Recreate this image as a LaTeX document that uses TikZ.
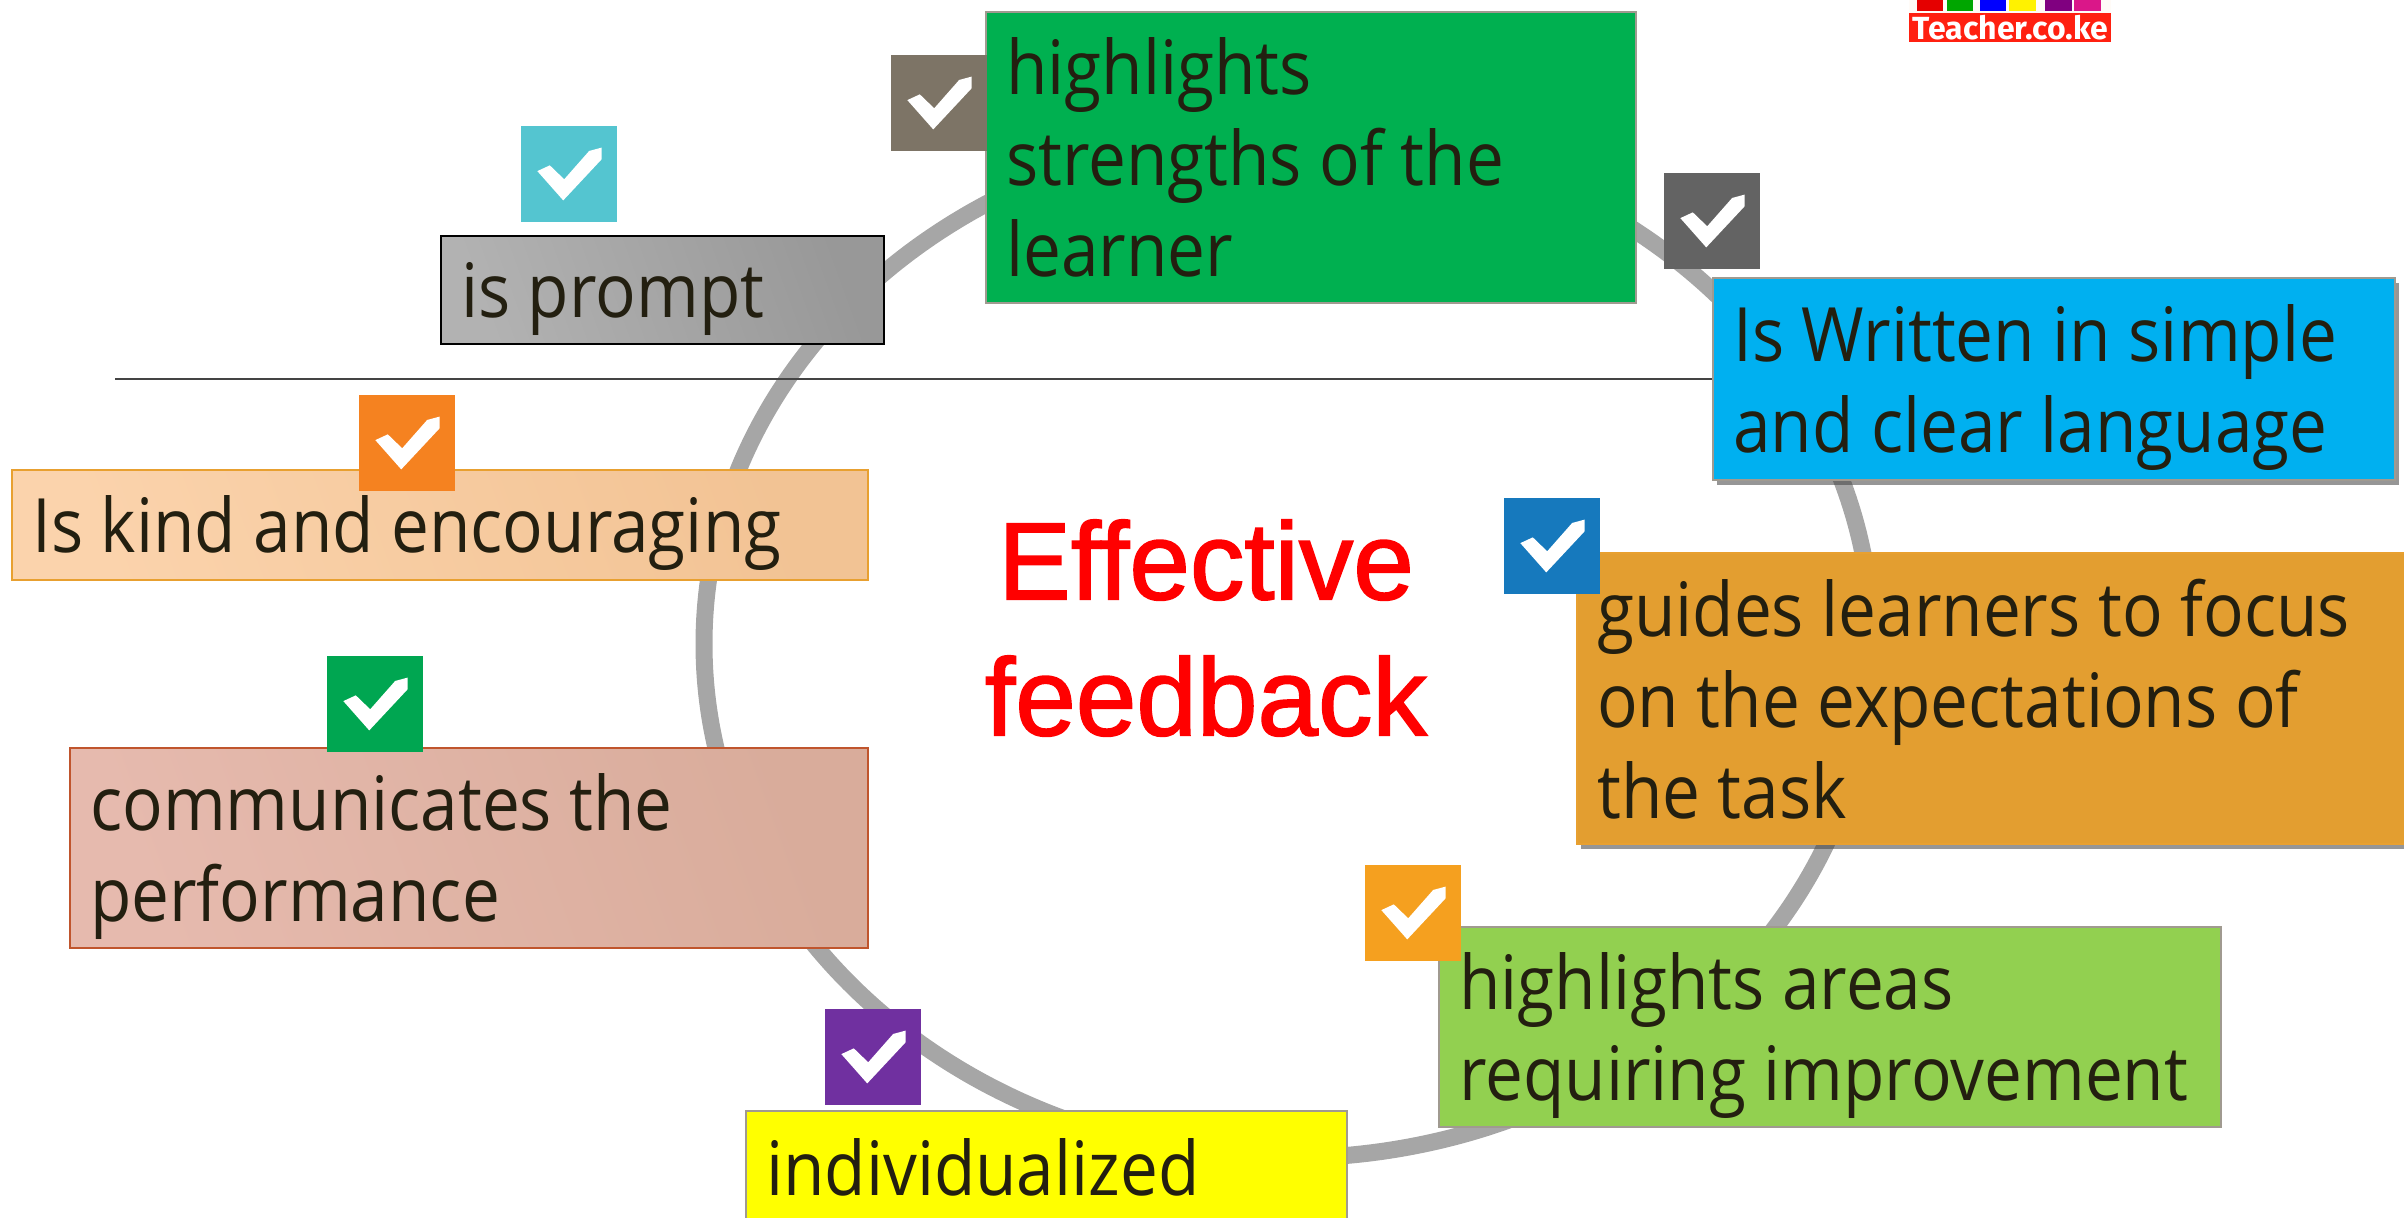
\documentclass[tikz,border=0pt]{standalone}
\usepackage{fontspec}
\setmainfont[FakeStretch=0.9]{Open Sans}
\newfontfamily\titlefont[FakeStretch=0.99,FakeBold=1.5]{Liberation Sans}
\newfontfamily\logofont{Fira Sans}
\usetikzlibrary{shadows}
\definecolor{ink}{HTML}{231F10}
\definecolor{ringgray}{HTML}{A6A6A6}
\definecolor{rulegray}{HTML}{444444}
\definecolor{cTeal}{HTML}{54C5D0}
\definecolor{cBrown}{HTML}{7D7466}
\definecolor{cGray}{HTML}{636363}
\definecolor{cOrange}{HTML}{F58220}
\definecolor{cBlue}{HTML}{1679BD}
\definecolor{cGreen}{HTML}{00A651}
\definecolor{cAmber}{HTML}{F5A01F}
\definecolor{cPurple}{HTML}{7030A0}
\definecolor{bGreen}{HTML}{00B050}
\definecolor{bSky}{HTML}{00B0F0}
\definecolor{bOrange}{HTML}{E39E30}
\definecolor{bLime}{HTML}{92D050}
\definecolor{bYellow}{RGB}{255,255,0}
\definecolor{bEdge}{HTML}{A09A90}
\definecolor{pL}{HTML}{FBD3AC}
\definecolor{pR}{HTML}{F2C394}
\definecolor{pE}{HTML}{E8A030}
\definecolor{sL}{HTML}{E6BAAE}
\definecolor{sR}{HTML}{D9AC9B}
\definecolor{sE}{HTML}{C0552D}
\definecolor{gL}{HTML}{B2B2B2}
\definecolor{gR}{HTML}{989898}
\definecolor{logoRed}{HTML}{FF2010}
\tikzset{
  x=0.5pt,y=-0.5pt,
  box/.style={draw=#1,line width=1.2pt,rectangle,inner sep=0pt,anchor=north west,text=ink,
    font=\fontsize{37.5}{45.5}\selectfont,align=flush left},
  shadowed/.style={general shadow={fill=black!75,opacity=.55,shadow xshift=2pt,shadow yshift=-2.5pt}},
  chk/.style={fill=#1,draw=none,rectangle,minimum width=48pt,minimum height=48pt,inner sep=0pt,anchor=north west},
  ring/.style={draw=ringgray,line width=8.5pt},
  rulel/.style={draw=rulegray,line width=1.2pt},
  title/.style={text=red,font=\titlefont\fontsize{55}{68}\selectfont,align=center,inner sep=0pt},
}
% name, x, y, colour
\newcommand{\chkbox}[4]{%
  \node[chk=#4] (#1) at (#2,#3) {};
  \fill[white,shift={(#2,#3)},x=48pt,y=-48pt]
    (.17,.47) -- (.30,.41) -- (.45,.555) -- (.71,.26) -- (.84,.225) -- (.84,.347) -- (.44,.775) -- cycle;
}
\newcommand{\lift}{\rule{0pt}{36.5pt}}
\begin{document}
\begin{tikzpicture}
\useasboundingbox (0,0) rectangle (2404,1218);
\clip (0,0) rectangle (2404,1218);
\coordinate (ringc) at (1288,644);
\draw[ring] (ringc) ellipse [x radius=292pt, y radius=257pt];

\node[box=black,left color=gL,right color=gR,shading angle=110,minimum width=221.5pt,minimum height=54pt,text width=201.5pt] (prompt) at (440,235) {\lift is prompt};
\node[box=pE,left color=pL,right color=pR,shading angle=110,minimum width=428pt,minimum height=55pt,text width=408pt] (kind) at (11,469) {\lift Is kind and encouraging};
\node[box=sE,left color=sL,right color=sR,shading angle=110,minimum width=399pt,minimum height=100pt,text width=379pt] (perf) at (69,747) {\lift communicates the\\performance};
\node[box=bEdge,fill=bGreen,minimum width=325pt,minimum height=145.5pt,text width=305pt] (strengths) at (985,11) {highlights\\strengths of the\\learner};
\node[box=bEdge,fill=bSky,shadowed,minimum width=341pt,minimum height=101pt,text width=321pt] (simple) at (1712,277) {\lift Is Written in simple\\and clear language};
\node[box=pE,fill=bOrange,shadowed,minimum width=420pt,minimum height=145.5pt,text width=400pt] (guides) at (1576,552) {guides learners to focus\\on the expectations of\\the task};
\node[box=bEdge,fill=bLime,minimum width=391pt,minimum height=100pt,text width=371pt] (areas) at (1438,926) {\lift highlights areas\\requiring improvement};
\node[box=bEdge,fill=bYellow,minimum width=300.5pt,minimum height=56pt,text width=280.5pt] (indiv) at (745,1110) {individualized};

\coordinate (ruleend) at (115,379);
\draw[rulel] (ruleend) -- (simple.west |- ruleend);

\node[title] (eff) at (1206,628) {Effective\\feedback};

\chkbox{cteal}{521}{126}{cTeal}
\chkbox{cbrown}{891}{55}{cBrown}
\chkbox{cgray}{1664}{173}{cGray}
\chkbox{corange}{359}{395}{cOrange}
\chkbox{cblue}{1504}{498}{cBlue}
\chkbox{cgreen}{327}{656}{cGreen}
\chkbox{camber}{1365}{865}{cAmber}
\chkbox{cpurple}{825}{1009}{cPurple}

\node[fill=logoRed,minimum width=101pt,minimum height=14.5pt,inner sep=0pt,anchor=north west,text=white,font=\logofont\bfseries\fontsize{16}{16}\selectfont] (logo) at (1909,13) {Teacher.co.ke};
\fill[white!97!orange] (1909,0) rectangle (2111,13);
\fill[red!90!black]   (1917,0) rectangle (1943,11);
\fill[green!65!black] (1947,0) rectangle (1973,11);
\fill[blue]           (1980,0) rectangle (2006,11);
\fill[yellow]         (2009,0) rectangle (2036,11);
\fill[violet]         (2045,0) rectangle (2072,11);
\fill[magenta!90!black] (2074,0) rectangle (2101,11);
\end{tikzpicture}
\end{document}
